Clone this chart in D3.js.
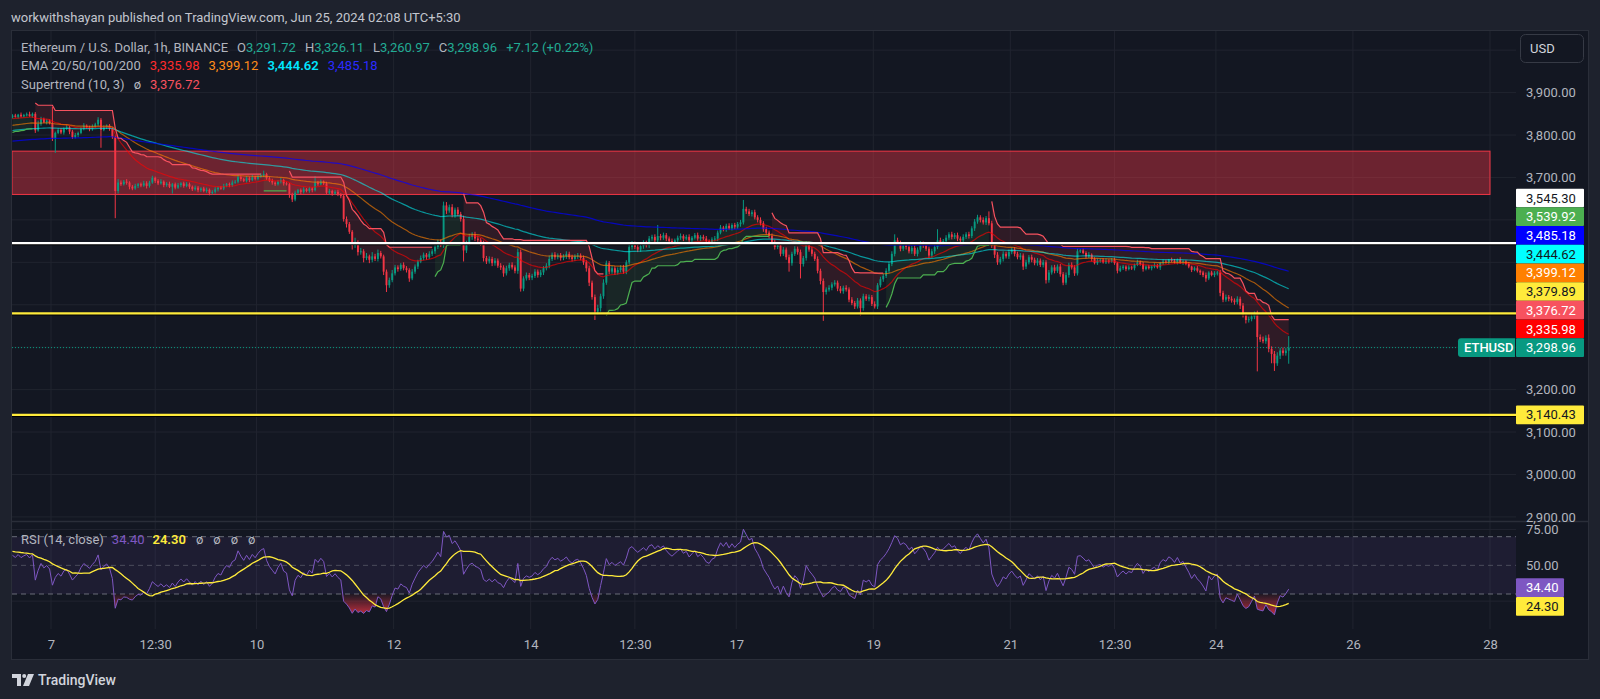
<!DOCTYPE html>
<html>
<head>
<meta charset="utf-8">
<script src="https://cdn.jsdelivr.net/npm/d3@7"></script>
<style>
  html, body { margin: 0; padding: 0; background: #1e222d; }
  svg { display: block; font-family: Roboto, "Noto Sans", sans-serif; }
</style>
</head>
<body>
<svg id="chart" width="1600" height="699"></svg>
<script>
// ---- data (1h candles, ETHUSD) ----
// open of each candle = close of the one before
const firstOpen = 3842;
const firstHour = -13.5; // hours from Jun 7 00:00

const closes = [
  // Jun 6
  3846, 3843, 3848, 3844, 3847, 3849, 3845, 3850, 3811, 3826, 3838, 3830, 3834, 3828,
  // Jun 7
  3792, 3805, 3812, 3806, 3815, 3818, 3808, 3795, 3800, 3805, 3815, 3822, 3818, 3814, 3820, 3825, 3836, 3812, 3818, 3822, 3815, 3795, 3668, 3688,
  // Jun 8
  3684, 3690, 3688, 3678, 3674, 3680, 3684, 3681, 3686, 3680, 3688, 3699, 3692, 3686, 3690, 3682, 3685, 3678, 3684, 3676, 3682, 3686, 3680, 3684,
  // Jun 9
  3678, 3672, 3676, 3670, 3674, 3668, 3671, 3663, 3666, 3672, 3676, 3674, 3680, 3684, 3682, 3688, 3690, 3701, 3696, 3692, 3698, 3694, 3700, 3697,
  // Jun 10
  3702, 3706, 3708, 3698, 3692, 3688, 3684, 3690, 3694, 3686, 3684, 3660, 3648, 3664, 3670, 3666, 3672, 3668, 3674, 3670, 3688, 3684, 3690, 3686,
  // Jun 11
  3664, 3668, 3662, 3666, 3660, 3656, 3602, 3590, 3572, 3540, 3546, 3524, 3526, 3510, 3514, 3506, 3514, 3508, 3522, 3514, 3478, 3446, 3458, 3474,
  // Jun 12
  3488, 3484, 3494, 3486, 3482, 3462, 3478, 3490, 3502, 3510, 3518, 3512, 3520, 3526, 3536, 3548, 3540, 3634, 3622, 3630, 3612, 3624, 3614, 3602,
  // Jun 13
  3528, 3545, 3560, 3566, 3556, 3552, 3545, 3510, 3502, 3508, 3498, 3504, 3492, 3488, 3474, 3486, 3494, 3488, 3480, 3524, 3438, 3462, 3470, 3464,
  // Jun 14
  3468, 3478, 3470, 3476, 3486, 3492, 3508, 3518, 3512, 3516, 3510, 3514, 3520, 3512, 3508, 3514, 3516, 3510, 3500, 3486, 3452, 3418, 3384, 3392,
  // Jun 15
  3420, 3452, 3498, 3478, 3486, 3476, 3482, 3488, 3478, 3500, 3536, 3544, 3536, 3530, 3538, 3546, 3540, 3556, 3560, 3552, 3562, 3558, 3564, 3556,
  // Jun 16
  3550, 3546, 3552, 3558, 3562, 3556, 3560, 3552, 3558, 3564, 3556, 3560, 3556, 3550, 3548, 3554, 3556, 3570, 3582, 3578, 3586, 3580, 3588, 3584,
  // Jun 17
  3590, 3594, 3626, 3620, 3614, 3618, 3606, 3600, 3592, 3578, 3570, 3562, 3548, 3536, 3540, 3520, 3530, 3512, 3498, 3520, 3532, 3524, 3496, 3510,
  // Jun 18
  3544, 3530, 3520, 3508, 3480, 3456, 3430, 3436, 3440, 3448, 3452, 3438, 3432, 3440, 3436, 3412, 3404, 3396, 3410, 3392, 3420, 3414, 3418, 3402,
  // Jun 19
  3396, 3446, 3460, 3468, 3480, 3496, 3520, 3552, 3546, 3532, 3540, 3536, 3526, 3534, 3520, 3530, 3544, 3540, 3532, 3516, 3526, 3536, 3552, 3546,
  // Jun 20
  3550, 3558, 3566, 3560, 3564, 3556, 3552, 3560, 3566, 3562, 3580, 3596, 3606, 3600, 3594, 3604, 3592, 3540, 3518, 3500, 3508, 3520, 3514, 3524,
  // Jun 21
  3530, 3520, 3512, 3516, 3490, 3500, 3512, 3506, 3498, 3504, 3494, 3500, 3458, 3476, 3488, 3480, 3490, 3472, 3452, 3470, 3494, 3488, 3474, 3526,
  // Jun 22
  3528, 3522, 3514, 3518, 3508, 3498, 3504, 3506, 3500, 3504, 3502, 3506, 3498, 3480, 3486, 3490, 3484, 3488, 3486, 3494, 3500, 3496, 3484, 3490,
  // Jun 23
  3486, 3490, 3492, 3488, 3498, 3502, 3500, 3506, 3504, 3500, 3506, 3500, 3502, 3496, 3490, 3482, 3486, 3480, 3476, 3470, 3462, 3476, 3470, 3474,
  // Jun 24
  3476, 3428, 3412, 3418, 3414, 3410, 3406, 3414, 3398, 3376, 3364, 3366, 3372, 3378, 3324, 3318, 3314, 3322, 3296, 3284, 3262, 3280, 3292, 3286,
  // Jun 25
  3291.72, 3298.96
];

// wick above max(open, close)
const wickUp = [
  3, 4, 2, 5, 3, 4, 6, 3, 4, 8, 5, 3, 4, 3,
  38, 3, 5, 4, 3, 6, 3, 4, 5, 3, 4, 6, 3, 4, 5, 4, 6, 4, 5, 3, 4, 3, 4, 8,
  5, 4, 6, 3, 4, 5, 3, 4, 6, 5, 4, 5, 3, 4, 6, 3, 4, 5, 3, 4, 5, 3, 4, 5,
  4, 3, 5, 4, 3, 4, 5, 3, 4, 5, 3, 4, 5, 3, 4, 5, 4, 6, 4, 3, 5, 4, 6, 4,
  5, 4, 8, 3, 4, 5, 3, 4, 5, 3, 4, 3, 4, 5, 3, 4, 5, 3, 4, 3, 15, 4, 5, 3,
  4, 5, 3, 4, 5, 3, 4, 6, 5, 4, 12, 6, 8, 5, 8, 4, 10, 6, 8, 5, 4, 5, 6, 8,
  6, 5, 4, 6, 5, 4, 6, 5, 4, 6, 5, 4, 6, 5, 4, 5, 6, 9, 8, 6, 7, 5, 6, 5,
  8, 6, 7, 5, 6, 7, 5, 6, 5, 6, 5, 6, 5, 6, 5, 6, 5, 6, 5, 8, 6, 5, 6, 5,
  5, 6, 5, 6, 5, 6, 8, 5, 6, 5, 6, 5, 6, 5, 6, 5, 6, 5, 6, 5, 6, 5, 6, 8,
  6, 8, 6, 5, 6, 5, 6, 5, 6, 5, 8, 6, 5, 6, 5, 6, 5, 6, 5, 6, 26, 5, 6, 5,
  5, 6, 4, 5, 6, 4, 5, 6, 4, 5, 6, 4, 5, 6, 4, 5, 6, 5, 6, 4, 5, 6, 4, 5,
  5, 6, 21, 5, 6, 5, 6, 5, 6, 5, 6, 5, 6, 5, 6, 5, 6, 5, 6, 5, 6, 5, 6, 5,
  6, 5, 6, 5, 6, 5, 6, 5, 6, 5, 6, 5, 6, 5, 6, 5, 6, 5, 6, 5, 6, 5, 6, 5,
  6, 5, 6, 5, 6, 5, 6, 14, 6, 5, 6, 5, 6, 5, 6, 5, 6, 5, 6, 5, 6, 5, 26, 6,
  5, 6, 5, 6, 5, 6, 5, 6, 5, 6, 5, 6, 6, 5, 6, 5, 16, 6, 5, 6, 5, 6, 5, 6,
  5, 6, 5, 6, 5, 6, 5, 6, 5, 6, 5, 6, 5, 6, 5, 6, 5, 6, 5, 6, 5, 6, 5, 6,
  3, 5, 4, 6, 3, 4, 5, 3, 4, 6, 3, 4, 5, 3, 6, 4, 3, 5, 4, 3, 6, 4, 5, 3,
  4, 3, 6, 4, 3, 5, 4, 2, 5, 4, 3, 6, 4, 3, 5, 2, 4, 5, 3, 4, 6, 3, 4, 5,
  4, 6, 5, 6, 5, 6, 5, 6, 5, 6, 5, 6, 7, 6, 8, 6, 7, 6, 8, 6, 7, 8, 6, 7,
  6, 27.15
];

// wick below min(open, close)
const wickDn = [
  3, 2, 4, 3, 2, 3, 2, 4, 6, 3, 4, 2, 5, 3,
  6, 34, 3, 4, 5, 3, 6, 4, 3, 5, 3, 4, 3, 5, 4, 3, 4, 42, 3, 4, 5, 4, 64, 6,
  4, 3, 5, 6, 4, 3, 5, 4, 3, 6, 4, 3, 5, 4, 3, 5, 4, 3, 16, 4, 3, 5, 4, 3,
  5, 4, 3, 5, 4, 3, 4, 5, 3, 4, 5, 3, 4, 3, 5, 4, 3, 4, 5, 3, 4, 5, 3, 4,
  4, 3, 5, 4, 3, 5, 4, 3, 4, 5, 3, 8, 6, 4, 3, 5, 4, 3, 4, 5, 3, 4, 3, 4,
  3, 4, 5, 3, 4, 5, 6, 8, 5, 10, 6, 8, 6, 10, 5, 8, 6, 5, 6, 5, 8, 16, 6, 5,
  5, 6, 4, 5, 6, 8, 4, 5, 6, 4, 5, 6, 4, 5, 6, 5, 4, 6, 8, 5, 6, 7, 5, 6,
  26, 6, 5, 7, 6, 5, 6, 8, 6, 5, 7, 6, 5, 6, 8, 5, 6, 5, 6, 7, 7, 6, 5, 6,
  6, 5, 6, 5, 6, 5, 6, 5, 6, 5, 6, 5, 6, 5, 6, 5, 6, 5, 6, 8, 8, 6, 20, 8,
  8, 6, 5, 6, 5, 6, 5, 6, 5, 6, 5, 6, 5, 6, 5, 6, 5, 6, 5, 6, 5, 6, 5, 6,
  4, 5, 6, 4, 5, 6, 4, 5, 6, 4, 5, 6, 4, 5, 6, 4, 5, 6, 4, 5, 6, 4, 5, 6,
  5, 6, 5, 6, 5, 6, 5, 6, 5, 6, 5, 6, 5, 6, 5, 6, 5, 6, 20, 6, 5, 6, 34, 6,
  6, 5, 6, 5, 6, 8, 68, 6, 5, 6, 5, 6, 5, 6, 5, 6, 5, 6, 5, 18, 6, 5, 6, 5,
  5, 6, 5, 6, 5, 6, 5, 6, 5, 6, 5, 6, 5, 6, 5, 6, 5, 6, 5, 6, 5, 6, 5, 6,
  5, 6, 5, 6, 5, 6, 5, 6, 5, 6, 5, 6, 5, 6, 5, 6, 5, 6, 8, 6, 5, 6, 5, 6,
  5, 6, 5, 6, 8, 6, 5, 6, 5, 6, 5, 6, 8, 6, 5, 6, 5, 6, 6, 5, 6, 5, 6, 5,
  4, 3, 5, 4, 6, 3, 4, 5, 3, 4, 5, 3, 4, 6, 3, 4, 5, 3, 4, 5, 3, 4, 6, 3,
  3, 5, 4, 3, 6, 4, 3, 5, 4, 3, 5, 4, 6, 3, 4, 5, 3, 4, 6, 5, 8, 4, 3, 5,
  5, 8, 6, 5, 6, 5, 6, 5, 8, 6, 8, 6, 5, 6, 81, 6, 5, 6, 8, 22, 18, 6, 8, 6,
  6, 30.75
];

// indicator settings and warm-up values read at the left edge
const emaLengths = [20, 50, 100, 200];
const emaSeeds = [3838, 3822, 3810, 3785];
const emaColors = ["#ff0000", "#ff8000", "#00ffff", "#0000ff"];
const emaLegend = ["3,335.98", "3,399.12", "3,444.62", "3,485.18"];
const emaLegendColors = ["#ff2b2b", "#ff8c1a", "#00e5ff", "#2a2aff"];

const stPeriod = 10, stFactor = 3;
const stSeedAtr = 13, stSeedUp = 3802, stSeedDn = 3880;

const rsiLen = 14, rsiSeedGain = 5, rsiSeedLoss = 4, rsiMaSeed = 60;

// legend texts
const ohlcLetters = ["O", "H", "L", "C"];
const ohlcLegend = ["3,291.72", "3,326.11", "3,260.97", "3,298.96"];
const changeLegend = "+7.12 (+0.22%)";
const stLegend = "3,376.72";
const rsiLegend = ["34.40", "24.30"];

// axes
const tickLabels = ["7", "12:30", "10", "12", "14", "12:30", "17", "19", "21", "12:30", "24", "26", "28"];
const tickHours = [0, 36.5, 72, 120, 168, 204.5, 240, 288, 336, 372.5, 408, 456, 504];
const priceGrid = [2900, 3000, 3100, 3200, 3300, 3400, 3500, 3600, 3700, 3800, 3900, 4000];
const priceTicks = [2900, 3000, 3100, 3200, 3700, 3800, 3900]; // the others sit under badges
const rsiGrid = [75, 25];
const rsiTicks = [75, 50];
const rsiLevels = [70, 50, 30];

// drawings
const whiteLine = 3545.30;
const yellowLines = [3379.89, 3140.43];
const zoneLow = 3660, zoneHigh = 3762, zoneEndHour = 504;

// right-hand price badges (stacked)
const badgeValues = [3545.30, 3539.92, 3485.18, 3444.62, 3399.12, 3379.89, 3376.72, 3335.98, 3298.96];
const badgeFills = ["#ffffff", "#4caf50", "#0000ff", "#00ffff", "#ff8000", "#ffeb3b", "#f7525f", "#ff0000", "#089981"];
const badgeInk = ["#131722", "#ffffff", "#ffffff", "#131722", "#ffffff", "#131722", "#ffffff", "#ffffff", "#ffffff"];
const lowBadge = 3140.43;
const rsiBadgeValues = [34.40, 24.30];
const rsiBadgeFills = ["#7e57c2", "#ffeb3b"];
const rsiBadgeInk = ["#ffffff", "#131722"];

// ---- layout ----
const W = 1600, H = 699;
const plotL = 12, plotR = 1516;
const paneTop = 31, paneSep = 521.5, rsiBottom = 629;

const x = d3.scaleLinear().domain([0, 504]).range([51, 1490]);
const y = d3.scaleLinear().domain([2900, 3900]).range([516.9, 92.6]);
const yr = d3.scaleLinear().domain([30, 70]).range([594, 536.7]);

const svg = d3.select("#chart");
const grey = "#b2b5be";
const grid = "#20242f";

// candles
const candles = closes.map((c, i) => {
  const o = i === 0 ? firstOpen : closes[i - 1];
  return { t: firstHour + i, o: o, c: c, h: Math.max(o, c) + wickUp[i], l: Math.min(o, c) - wickDn[i] };
});

// EMAs
const emas = emaLengths.map((len, k) => {
  const a = 2 / (len + 1);
  let e = emaSeeds[k];
  return candles.map(d => ({ t: d.t, v: (e = e + a * (d.c - e)) }));
});

// Supertrend
let atr = stSeedAtr, upPrev = stSeedUp, dnPrev = stSeedDn, dir = 1, cPrev = firstOpen;
const st = candles.map(d => {
  const tr = Math.max(d.h - d.l, Math.abs(d.h - cPrev), Math.abs(d.l - cPrev));
  atr = (atr * (stPeriod - 1) + tr) / stPeriod;
  const hl2 = (d.h + d.l) / 2;
  let up = hl2 - stFactor * atr, dn = hl2 + stFactor * atr;
  if (cPrev > upPrev) up = Math.max(up, upPrev);
  if (cPrev < dnPrev) dn = Math.min(dn, dnPrev);
  if (dir === 1 && d.c < upPrev) dir = -1;
  else if (dir === -1 && d.c > dnPrev) dir = 1;
  upPrev = up; dnPrev = dn; cPrev = d.c;
  return { t: d.t, v: dir === 1 ? up : dn, dir: dir, mid: (d.o + d.c) / 2 };
});
const runs = [];
st.forEach(p => {
  if (!runs.length || runs[runs.length - 1].dir !== p.dir) runs.push({ dir: p.dir, pts: [] });
  runs[runs.length - 1].pts.push(p);
});

// RSI + its SMA
let ag = rsiSeedGain, al = rsiSeedLoss;
const rsi = candles.map(d => {
  const ch = d.c - d.o;
  ag = (ag * (rsiLen - 1) + Math.max(ch, 0)) / rsiLen;
  al = (al * (rsiLen - 1) + Math.max(-ch, 0)) / rsiLen;
  return 100 - 100 / (1 + ag / al);
});
const rsiMa = rsi.map((v, i) => {
  let s = 0;
  for (let j = i - 13; j <= i; j++) s += j < 0 ? rsiMaSeed : rsi[j];
  return s / 14;
});

// ---- backgrounds ----
svg.append("rect").attr("width", W).attr("height", H).attr("fill", "#1e222d");
svg.append("rect").attr("x", 11.5).attr("y", 30.5).attr("width", 1577).attr("height", 629)
  .attr("fill", "#131722").attr("stroke", "#2a2e39");

const defs = svg.append("defs");
defs.append("clipPath").attr("id", "clipP").append("rect")
  .attr("x", plotL).attr("y", paneTop).attr("width", plotR - plotL).attr("height", paneSep - paneTop);
defs.append("clipPath").attr("id", "clipR").append("rect")
  .attr("x", plotL).attr("y", paneSep + 1).attr("width", plotR - plotL).attr("height", rsiBottom - paneSep - 1);

const gOs = defs.append("linearGradient").attr("id", "gOs").attr("gradientUnits", "userSpaceOnUse")
  .attr("x1", 0).attr("x2", 0).attr("y1", yr(30)).attr("y2", yr(14));
gOs.append("stop").attr("offset", 0).attr("stop-color", "#f23645").attr("stop-opacity", 0.05);
gOs.append("stop").attr("offset", 1).attr("stop-color", "#f23645").attr("stop-opacity", 0.85);
const gOb = defs.append("linearGradient").attr("id", "gOb").attr("gradientUnits", "userSpaceOnUse")
  .attr("x1", 0).attr("x2", 0).attr("y1", yr(70)).attr("y2", yr(86));
gOb.append("stop").attr("offset", 0).attr("stop-color", "#089981").attr("stop-opacity", 0.05);
gOb.append("stop").attr("offset", 1).attr("stop-color", "#089981").attr("stop-opacity", 0.85);

// ---- grid ----
const gridG = svg.append("g");
gridG.selectAll("line.v").data(tickHours).enter().append("line")
  .attr("x1", d => x(d)).attr("x2", d => x(d)).attr("y1", paneTop).attr("y2", rsiBottom)
  .attr("stroke", grid);
gridG.selectAll("line.h").data(priceGrid).enter().append("line")
  .attr("x1", plotL).attr("x2", plotR).attr("y1", d => y(d)).attr("y2", d => y(d))
  .attr("stroke", grid);
gridG.selectAll("line.r").data(rsiGrid).enter().append("line")
  .attr("x1", plotL).attr("x2", plotR).attr("y1", d => yr(d)).attr("y2", d => yr(d))
  .attr("stroke", grid);
svg.append("line").attr("x1", plotL).attr("x2", 1588).attr("y1", paneSep).attr("y2", paneSep)
  .attr("stroke", "#2a2e39").attr("stroke-width", 1.5);

// ---- price pane ----
const pane = svg.append("g").attr("clip-path", "url(#clipP)");

// zone
pane.append("rect")
  .attr("x", plotL).attr("y", y(zoneHigh))
  .attr("width", x(zoneEndHour) - plotL).attr("height", y(zoneLow) - y(zoneHigh))
  .attr("fill", "#f23645").attr("fill-opacity", 0.4)
  .attr("stroke", "#f23645").attr("stroke-width", 1);

// supertrend fills
const stArea = d3.area().x(p => x(p.t)).y0(p => y(p.mid)).y1(p => y(p.v));
pane.selectAll("path.stfill").data(runs).enter().append("path")
  .attr("d", r => stArea(r.pts))
  .attr("fill", r => r.dir === 1 ? "#4caf50" : "#f23645")
  .attr("fill-opacity", r => r.dir === 1 ? 0.1 : 0.13);

// candles
const up = d => d.c >= d.o;
pane.selectAll("line.wick").data(candles).enter().append("line")
  .attr("x1", d => x(d.t)).attr("x2", d => x(d.t))
  .attr("y1", d => y(d.h)).attr("y2", d => y(d.l))
  .attr("stroke", d => up(d) ? "#089981" : "#f23645").attr("stroke-width", 1);
pane.selectAll("rect.body").data(candles).enter().append("rect")
  .attr("x", d => x(d.t) - 0.95).attr("width", 1.9)
  .attr("y", d => y(Math.max(d.o, d.c)))
  .attr("height", d => Math.max(1, Math.abs(y(d.o) - y(d.c))))
  .attr("fill", d => up(d) ? "#089981" : "#f23645");

// EMAs
const line = d3.line().x(p => x(p.t)).y(p => y(p.v));
pane.selectAll("path.ema").data(emas).enter().append("path")
  .attr("d", line).attr("fill", "none")
  .attr("stroke", (d, i) => emaColors[i])
  .attr("stroke-opacity", (d, i) => [0.62, 0.62, 0.55, 0.7][i])
  .attr("stroke-width", 1.2);

// supertrend lines
pane.selectAll("path.st").data(runs).enter().append("path")
  .attr("d", r => line(r.pts)).attr("fill", "none")
  .attr("stroke", r => r.dir === 1 ? "#4caf50" : "#f7525f")
  .attr("stroke-width", 1.2);

// horizontal lines (each with a thin dark edge underneath)
[whiteLine].concat(yellowLines).forEach((v, i) => {
  pane.append("line").attr("x1", plotL).attr("x2", plotR).attr("y1", y(v) + 1.6).attr("y2", y(v) + 1.6)
    .attr("stroke", "#000000").attr("stroke-width", 1.2);
  pane.append("line").attr("x1", plotL).attr("x2", plotR).attr("y1", y(v)).attr("y2", y(v))
    .attr("stroke", i === 0 ? "#ffffff" : "#ffeb3b").attr("stroke-width", 2.2);
});

// last price dotted line
const lastClose = closes[closes.length - 1];
pane.append("line").attr("x1", plotL).attr("x2", 1458).attr("y1", y(lastClose)).attr("y2", y(lastClose))
  .attr("stroke", "#089981").attr("stroke-width", 1).attr("stroke-dasharray", "1,2");

// ---- RSI pane ----
const rp = svg.append("g").attr("clip-path", "url(#clipR)");
rp.append("rect").attr("x", plotL).attr("width", plotR - plotL)
  .attr("y", yr(70)).attr("height", yr(30) - yr(70))
  .attr("fill", "#7e57c2").attr("fill-opacity", 0.1);
rp.selectAll("line.lvl").data(rsiLevels).enter().append("line")
  .attr("x1", plotL).attr("x2", plotR).attr("y1", d => yr(d)).attr("y2", d => yr(d))
  .attr("stroke", "#787b86").attr("stroke-dasharray", "5,4")
  .attr("stroke-opacity", d => d === 50 ? 0.5 : 0.85);

rp.append("path")
  .attr("d", d3.area().x((v, i) => x(candles[i].t)).y0(yr(30)).y1(v => yr(Math.min(v, 30)))(rsi))
  .attr("fill", "url(#gOs)");
rp.append("path")
  .attr("d", d3.area().x((v, i) => x(candles[i].t)).y0(yr(70)).y1(v => yr(Math.max(v, 70)))(rsi))
  .attr("fill", "url(#gOb)");
rp.append("path")
  .attr("d", d3.line().x((v, i) => x(candles[i].t)).y(v => yr(v))(rsi))
  .attr("fill", "none").attr("stroke", "#7e57c2").attr("stroke-width", 1);
rp.append("path")
  .attr("d", d3.line().x((v, i) => x(candles[i].t)).y(v => yr(v))(rsiMa))
  .attr("fill", "none").attr("stroke", "#ffeb3b").attr("stroke-width", 1.3);

// ---- axes ----
const styleAxis = g => {
  g.select(".domain").remove();
  g.selectAll("text").attr("fill", grey).attr("font-size", 13)
    .attr("font-family", "Roboto, 'Noto Sans', sans-serif");
};
svg.append("g").attr("transform", "translate(0,640)")
  .call(d3.axisBottom(x).tickValues(tickHours).tickFormat((d, i) => tickLabels[i]).tickSize(0).tickPadding(0))
  .call(styleAxis);
svg.append("g").attr("transform", "translate(" + plotR + ",0)")
  .call(d3.axisRight(y).tickValues(priceTicks).tickFormat(d3.format(",.2f")).tickSize(0).tickPadding(10))
  .call(styleAxis);
svg.append("g").attr("transform", "translate(" + plotR + ",0)")
  .call(d3.axisRight(yr).tickValues(rsiTicks).tickFormat(d3.format(".2f")).tickSize(0).tickPadding(10))
  .call(styleAxis);

// ---- badges ----
const bh = 18.7;
const badgeY = [];
let prevY = Infinity;
for (let i = badgeValues.length - 1; i >= 0; i--) {
  const yy = Math.min(y(badgeValues[i]), prevY - bh);
  badgeY[i] = yy; prevY = yy;
}
function badge(cy, w, fill, ink, label) {
  const g = svg.append("g").attr("transform", "translate(" + plotR + "," + (cy - bh / 2) + ")");
  g.append("rect").attr("width", w).attr("height", bh).attr("fill", fill).attr("rx", 1);
  g.append("text").attr("x", 10).attr("y", bh / 2 + 4.6).attr("fill", ink).attr("font-size", 13).text(label);
}
badgeValues.forEach((v, i) => badge(badgeY[i], 68, badgeFills[i], badgeInk[i], d3.format(",.2f")(v)));
badge(y(lowBadge), 68, "#ffeb3b", "#131722", d3.format(",.2f")(lowBadge));

const closeY = badgeY[badgeY.length - 1];
svg.append("path")
  .attr("d", "M1515," + (closeY - bh / 2) + " H1461 q-3,0 -3,3 V" + (closeY + bh / 2 - 3) + " q0,3 3,3 H1515 Z")
  .attr("fill", "#089981");
svg.append("text").attr("x", 1464).attr("y", closeY + 4.6).attr("fill", "#ffffff")
  .attr("font-size", 13).attr("font-weight", 500).text("ETHUSD");

let ry = -Infinity;
rsiBadgeValues.forEach((v, i) => {
  ry = Math.max(yr(v), ry + bh);
  badge(ry, 48, rsiBadgeFills[i], rsiBadgeInk[i], d3.format(".2f")(v));
});

// USD button
svg.append("rect").attr("x", 1520.5).attr("y", 34.5).attr("width", 63).attr("height", 28).attr("rx", 5)
  .attr("fill", "#131722").attr("stroke", "#363a45");
svg.append("text").attr("x", 1530).attr("y", 52.5).attr("fill", "#d1d4dc").attr("font-size", 13).text("USD");

// ---- texts ----
svg.append("text").attr("x", 11).attr("y", 22).attr("fill", "#c3c6ce").attr("font-size", 13)
  .text("workwithshayan published on TradingView.com, Jun 25, 2024 02:08 UTC+5:30");

function legendRow(yy, parts) {
  const t = svg.append("text").attr("x", 21).attr("y", yy).attr("font-size", 13);
  parts.forEach(p => t.append("tspan").attr("dx", p.dx || 0).attr("fill", p.c)
    .attr("font-weight", p.w || 400).text(p.t));
}
const teal = "#22ab94";
const row1 = [{ t: "Ethereum / U.S. Dollar, 1h, BINANCE", c: grey }];
ohlcLetters.forEach((L, i) => {
  row1.push({ t: L, c: grey, dx: 9 });
  row1.push({ t: ohlcLegend[i], c: teal });
});
row1.push({ t: changeLegend, c: teal, dx: 9 });
legendRow(51.5, row1);

const row2 = [{ t: "EMA 20/50/100/200", c: grey }];
emaLegend.forEach((v, i) => row2.push({ t: v, c: emaLegendColors[i], dx: 9, w: i === 2 ? 600 : 400 }));
legendRow(70, row2);

legendRow(88.5, [
  { t: "Supertrend (10, 3)", c: grey },
  { t: "ø", c: grey, dx: 9 },
  { t: stLegend, c: "#f7525f", dx: 9 }
]);

legendRow(543.5, [
  { t: "RSI (14, close)", c: grey },
  { t: rsiLegend[0], c: "#7e57c2", dx: 8 },
  { t: rsiLegend[1], c: "#ffeb3b", dx: 8, w: 600 },
  { t: "ø", c: grey, dx: 10 }, { t: "ø", c: grey, dx: 10 },
  { t: "ø", c: grey, dx: 10 }, { t: "ø", c: grey, dx: 10 }
]);

// TradingView logo
const logo = svg.append("g").attr("transform", "translate(12,674)").attr("fill", "#d1d4dc");
logo.append("path").attr("d", "M0,0 H9 V12 H5 V4 H0 Z");
logo.append("circle").attr("cx", 12.2).attr("cy", 2).attr("r", 2);
logo.append("path").attr("d", "M16,0 H22 L17,12 H11 Z");
svg.append("text").attr("x", 38).attr("y", 685).attr("fill", "#d1d4dc").attr("font-size", 14)
  .attr("font-weight", 500).text("TradingView");
</script>
</body>
</html>
